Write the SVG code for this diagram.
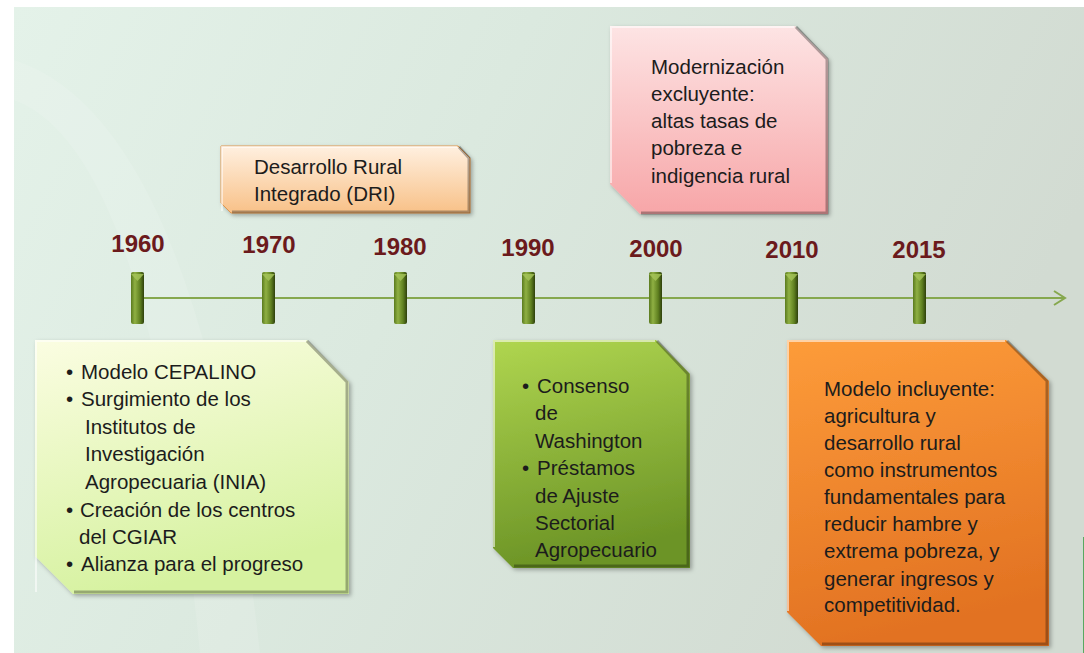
<svg xmlns="http://www.w3.org/2000/svg" width="1084" height="653" viewBox="0 0 1084 653">
<defs>
<linearGradient id="bg" x1="0" y1="0" x2="1" y2="0.3">
<stop offset="0" stop-color="#e4f2e9"/>
<stop offset="0.45" stop-color="#dbe9df"/>
<stop offset="1" stop-color="#d2dbd2"/>
</linearGradient>
<linearGradient id="gY" x1="0" y1="0" x2="0.3" y2="1">
<stop offset="0" stop-color="#fbfde2"/>
<stop offset="1" stop-color="#d6f2a0"/>
</linearGradient>
<linearGradient id="gP" x1="0" y1="0" x2="0" y2="1">
<stop offset="0" stop-color="#fff0e0"/>
<stop offset="1" stop-color="#f8c188"/>
</linearGradient>
<linearGradient id="gR" x1="0" y1="0" x2="0" y2="1">
<stop offset="0" stop-color="#fde4e4"/>
<stop offset="1" stop-color="#f7a6a8"/>
</linearGradient>
<linearGradient id="gG" x1="0" y1="0" x2="0.2" y2="1">
<stop offset="0" stop-color="#b0d650"/>
<stop offset="1" stop-color="#6c9426"/>
</linearGradient>
<linearGradient id="gO" x1="0" y1="0" x2="0.2" y2="1">
<stop offset="0" stop-color="#fd9c3a"/>
<stop offset="1" stop-color="#e27222"/>
</linearGradient>
<linearGradient id="mk" x1="0" y1="0" x2="1" y2="0">
<stop offset="0" stop-color="#5a7a1e"/>
<stop offset="0.3" stop-color="#8fb043"/>
<stop offset="0.7" stop-color="#5f8020"/>
<stop offset="1" stop-color="#2e400c"/>
</linearGradient>
<filter id="sh" x="-10%" y="-10%" width="125%" height="125%">
<feDropShadow dx="2" dy="2" stdDeviation="2" flood-color="#000" flood-opacity="0.3"/>
</filter>
</defs>
<style>
.t{font-family:"Liberation Sans",Arial,sans-serif;font-size:20.5px;fill:#1c1c1c}
.y{font-family:"Liberation Sans",Arial,sans-serif;font-size:24px;font-weight:bold;fill:#6b1a1c;text-anchor:middle}
.hl{fill:none;stroke:#ffffff;stroke-opacity:0.55;stroke-width:2}
.dk{fill:none;stroke:#000;stroke-opacity:0.3;stroke-width:3}
.mk{fill:url(#mk)}
.cap{fill:#a6c65a;opacity:0.8}
</style>
<rect x="0" y="0" width="1084" height="653" fill="#ffffff"/>
<rect x="14" y="7" width="1070" height="646" fill="url(#bg)"/>
<path d="M14 60 Q200 120 260 653 L200 653 Q150 150 14 100 Z" fill="#ffffff" opacity="0.12"/>
<line x1="1083.5" y1="537" x2="1083.5" y2="653" stroke="#5aa860" stroke-width="1"/>

<g id="connectors">
<line x1="137" y1="298" x2="1064" y2="298" stroke="#86a84e" stroke-width="2"/>
<polyline points="1054,291 1065,298 1054,305" fill="none" stroke="#86a84e" stroke-width="2"/>
</g>

<g id="markers">
<g id="m1960"><rect class="mk" x="131" y="272" width="13" height="52" rx="2"/><path class="cap" d="M131 274 L137.5 281 L144 274 Z"/><text class="y" x="138" y="252">1960</text></g>
<g id="m1970"><rect class="mk" x="262" y="272" width="13" height="52" rx="2"/><path class="cap" d="M262 274 L268.5 281 L275 274 Z"/><text class="y" x="269" y="253">1970</text></g>
<g id="m1980"><rect class="mk" x="394" y="272" width="13" height="52" rx="2"/><path class="cap" d="M394 274 L400.5 281 L407 274 Z"/><text class="y" x="400" y="255">1980</text></g>
<g id="m1990"><rect class="mk" x="522" y="272" width="13" height="52" rx="2"/><path class="cap" d="M522 274 L528.5 281 L535 274 Z"/><text class="y" x="528" y="256">1990</text></g>
<g id="m2000"><rect class="mk" x="649" y="272" width="13" height="52" rx="2"/><path class="cap" d="M649 274 L655.5 281 L662 274 Z"/><text class="y" x="656" y="257">2000</text></g>
<g id="m2010"><rect class="mk" x="785" y="272" width="13" height="52" rx="2"/><path class="cap" d="M785 274 L791.5 281 L798 274 Z"/><text class="y" x="792" y="258">2010</text></g>
<g id="m2015"><rect class="mk" x="913" y="272" width="13" height="52" rx="2"/><path class="cap" d="M913 274 L919.5 281 L926 274 Z"/><text class="y" x="919" y="258">2015</text></g>
</g>

<g id="box-1960">
<path d="M35 340 L307 340 L349 382 L349 594 L73 594 L35 556 Z" fill="url(#gY)" filter="url(#sh)"/>
<polyline class="hl" points="36,592 36,341 306,341"/>
<polyline class="dk" points="307,341 347,382 347,592 74,592"/>
<text class="t" x="66" y="379">•</text><text class="t" x="81" y="379">Modelo CEPALINO</text>
<text class="t" x="66" y="406">•</text><text class="t" x="81" y="406">Surgimiento de los</text>
<text class="t" x="85" y="434">Institutos de</text>
<text class="t" x="85" y="461">Investigación</text>
<text class="t" x="85" y="489">Agropecuaria (INIA)</text>
<text class="t" x="66" y="517">•</text><text class="t" x="80" y="517">Creación de los centros</text>
<text class="t" x="79" y="544">del CGIAR</text>
<text class="t" x="66" y="571">•</text><text class="t" x="81" y="571">Alianza para el progreso</text>
</g>

<g id="box-dri">
<path d="M221 146 L458 146 L470 158 L470 213 L231 213 L221 203 Z" fill="url(#gP)" stroke="#e0964e" stroke-width="1" filter="url(#sh)"/>
<polyline class="hl" points="222,211 222,147 457,147"/>
<polyline class="dk" points="459,147 469,158 469,212 232,212"/>
<text class="t" x="254" y="174">Desarrollo Rural</text>
<text class="t" x="254" y="201">Integrado (DRI)</text>
</g>

<g id="box-modernizacion">
<path d="M610 26 L795 26 L828 59 L828 214 L640 214 L610 184 Z" fill="url(#gR)" filter="url(#sh)"/>
<polyline class="hl" points="611,183 611,27 794,27"/>
<polyline class="dk" points="796,27 827,59 827,213 641,213"/>
<text class="t" x="651" y="74">Modernización</text>
<text class="t" x="651" y="101">excluyente:</text>
<text class="t" x="651" y="128">altas tasas de</text>
<text class="t" x="651" y="155">pobreza e</text>
<text class="t" x="651" y="183">indigencia rural</text>
</g>

<g id="box-1990">
<path d="M493 340 L656 340 L690 374 L690 568 L513 568 L493 548 Z" fill="url(#gG)" filter="url(#sh)"/>
<polyline class="hl" points="494,547 494,341 655,341"/>
<polyline class="dk" points="657,341 688,374 688,566 514,566"/>
<text class="t" x="522" y="393">•</text><text class="t" x="537" y="393">Consenso</text>
<text class="t" x="535" y="420">de</text>
<text class="t" x="535" y="448">Washington</text>
<text class="t" x="522" y="475">•</text><text class="t" x="537" y="475">Préstamos</text>
<text class="t" x="535" y="503">de Ajuste</text>
<text class="t" x="535" y="530">Sectorial</text>
<text class="t" x="535" y="557">Agropecuario</text>
</g>

<g id="box-2010">
<path d="M787 340 L1006 340 L1049 381 L1049 646 L821 646 L787 612 Z" fill="url(#gO)" filter="url(#sh)"/>
<polyline class="hl" points="788,611 788,341 1005,341"/>
<polyline class="dk" points="1007,341 1047,381 1047,644 822,644"/>
<text class="t" x="824" y="396">Modelo incluyente:</text>
<text class="t" x="824" y="423">agricultura y</text>
<text class="t" x="824" y="450">desarrollo rural</text>
<text class="t" x="824" y="477">como instrumentos</text>
<text class="t" x="824" y="504">fundamentales para</text>
<text class="t" x="824" y="531">reducir hambre y</text>
<text class="t" x="824" y="558">extrema pobreza, y</text>
<text class="t" x="824" y="586">generar ingresos y</text>
<text class="t" x="824" y="612">competitividad.</text>
</g>
</svg>
